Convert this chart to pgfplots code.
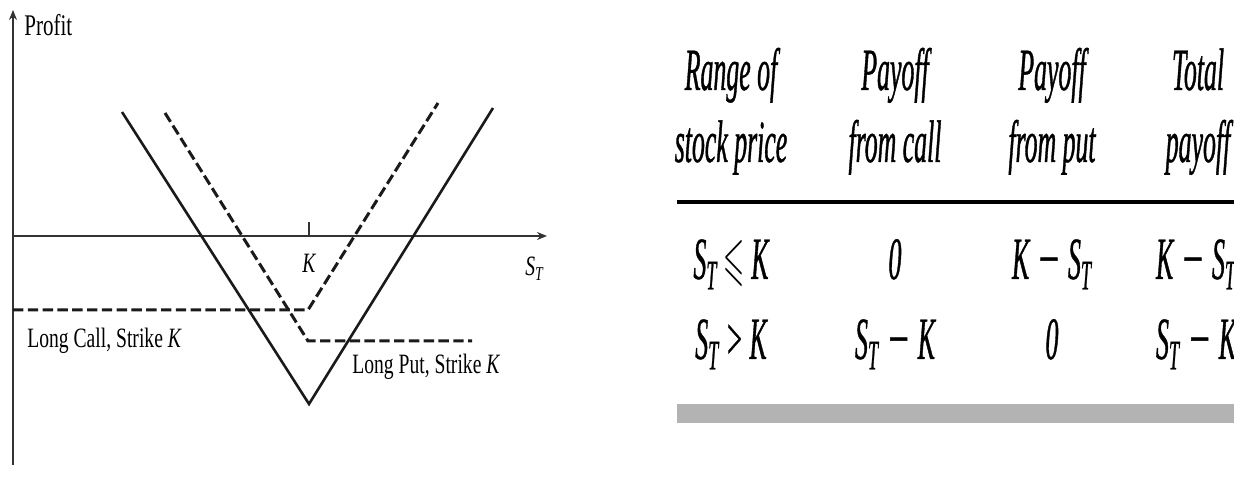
\documentclass[border=0pt]{standalone}
\usepackage{amssymb}
\usepackage{graphicx}
\usepackage{fontspec}
\setmainfont{Liberation Serif}
\newfontfamily\lbl[FakeStretch=0.7]{Liberation Serif}
\newfontface\tabit[FakeStretch=0.43,FakeBold=0.6]{Liberation Serif Italic}
\usepackage{pgfplots}
\pgfplotsset{compat=1.18}
\usetikzlibrary{arrows.meta}
\definecolor{ink}{HTML}{1A1A1A}
\definecolor{axisgray}{HTML}{333333}
\definecolor{bargray}{HTML}{B3B3B3}

% table cells: tall, narrow italic
\newcommand{\cell}[1]{{\fontsize{30}{30}\tabit #1}}
\newcommand{\ST}{S\textsubscript{T}}
\newcommand{\lesl}{\scalebox{0.45}[1]{$\leqslant$}}
\newcommand{\mn}{\hspace{0.12em}\scalebox{1.4}[1]{−}\hspace{0.12em}}

\begin{document}
\begin{tikzpicture}
\begin{axis}[
  x=0.5pt, y=0.5pt,
  xmin=0, xmax=1234, ymin=-260, ymax=236,
  enlargelimits=false,
  hide axis,
  clip=false,
]
\coordinate (bl) at (0,-260);
\coordinate (tr) at (1234,236);

% profit diagram axes
\draw[axisgray, line width=0.8pt, -{Stealth[length=5pt,width=4pt]}] (13,-229) -- (13,226);
\draw[axisgray, line width=0.8pt, -{Stealth[length=5pt,width=4pt]}] (13,0) -- (547,0);
\draw[axisgray, line width=0.6pt] (309,0) -- (309,14);

% straddle, long call, long put
\addplot[ink, line width=1.3pt] coordinates {(122,124) (309,-168) (493,128)};
\addplot[ink, line width=1.5pt, dash pattern=on 5.2pt off 2.2pt] coordinates {(13,-74) (308,-74) (438,133)};
\addplot[ink, line width=1.5pt, dash pattern=on 5.2pt off 2.2pt] coordinates {(165,123) (308,-105) (472,-105)};

\node[anchor=base west, inner sep=0] at (24,200) {\lbl\fontsize{15}{15}\selectfont Profit};
\node[anchor=base, inner sep=0] at (309,-37) {\lbl\fontsize{14}{14}\selectfont\itshape K};
\node[anchor=base west, inner sep=0] at (525,-40) {\lbl\fontsize{14}{14}\selectfont\itshape S\textsubscript{T}};
\node[anchor=base west, inner sep=0] at (27,-112) {\lbl\fontsize{14}{14}\selectfont Long Call, Strike \textit{K}};
\node[anchor=base west, inner sep=0] at (352,-138) {\lbl\fontsize{14}{14}\selectfont Long Put, Strike \textit{K}};

% payoff table
\node[anchor=base, inner sep=0] at (731,146) {\cell{Range of}};
\node[anchor=base, inner sep=0] at (731,74) {\cell{stock price}};
\node[anchor=base, inner sep=0] at (895,146) {\cell{Payoff}};
\node[anchor=base, inner sep=0] at (895,74) {\cell{from call}};
\node[anchor=base, inner sep=0] at (1052,146) {\cell{Payoff}};
\node[anchor=base, inner sep=0] at (1052,74) {\cell{from put}};
\node[anchor=base, inner sep=0] at (1198,146) {\cell{Total}};
\node[anchor=base, inner sep=0] at (1198,74) {\cell{payoff}};

\fill[black] (677,32) rectangle (1234,36);

\node[anchor=base, inner sep=0] at (731,-43) {\cell{\ST{} \lesl{} K}};
\node[anchor=base, inner sep=0] at (895,-43) {\cell{0}};
\node[anchor=base, inner sep=0] at (1052,-43) {\cell{K\mn\ST}};
\node[anchor=base, inner sep=0] at (1196,-43) {\cell{K\mn\ST}};
\node[anchor=base, inner sep=0] at (731,-123) {\cell{\ST{} > K}};
\node[anchor=base, inner sep=0] at (895,-123) {\cell{\ST\mn K}};
\node[anchor=base, inner sep=0] at (1052,-123) {\cell{0}};
\node[anchor=base, inner sep=0] at (1196,-123) {\cell{\ST\mn K}};

\fill[bargray] (677,-168) rectangle (1234,-187);
\end{axis}
\pgfresetboundingbox
\path (bl) rectangle (tr);
\end{tikzpicture}
\end{document}
